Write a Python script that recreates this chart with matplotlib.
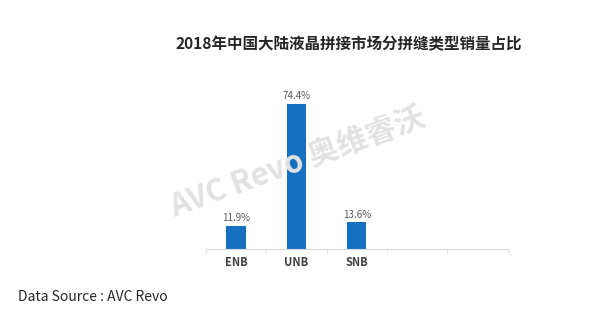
import numpy as np
import matplotlib.pyplot as plt

plt.rcParams['font.family'] = ['Noto Sans CJK SC', 'DejaVu Sans']

categories = ['ENB', 'UNB', 'SNB', '', '']
values = [11.9, 74.4, 13.6, None, None]
labels = ['11.9%', '74.4%', '13.6%']
title = '2018年中国大陆液晶拼接市场分拼缝类型销量占比'

fig = plt.figure(figsize=(6.07, 3.32), dpi=100)
ax = fig.add_axes([0.339, 0.25, 0.4975, 0.47])

x = np.arange(len(categories))
shown = [v for v in values if v is not None]
bars = ax.bar(x[:len(shown)], shown, width=0.32, color='#1470c0')

for b, lab in zip(bars, labels):
    ax.text(b.get_x() + b.get_width() / 2, b.get_height() + 1.5, lab,
            ha='center', va='bottom', fontsize=7, color='#595959')

ax.set_xlim(-0.5, len(categories) - 0.5)
ax.set_ylim(0, 80)
ax.set_xticks(x)
ax.set_xticklabels(categories, fontsize=8, color='#404040', fontweight='bold')
ax.tick_params(axis='x', length=0, pad=5)
ax.set_xticks(np.arange(-0.5, len(categories)), minor=True)
ax.tick_params(axis='x', which='minor', length=3, color='#d9d9d9')
ax.set_yticks([])
for s in ['top', 'right', 'left']:
    ax.spines[s].set_visible(False)
ax.spines['bottom'].set_color('#d9d9d9')

# watermark
fig.text(0.49, 0.51, 'AVC Revo 奥维睿沃', rotation=20, ha='center', va='center',
         fontsize=22, fontweight='bold', color='#e2e2e2', zorder=0)

fig.text(0.574, 0.867, title, ha='center', va='center', fontsize=11.2,
         fontweight='bold', color='#262626')
fig.text(0.03, 0.105, 'Data Source : AVC Revo', ha='left', va='center',
         fontsize=10, color='#262626')

fig.savefig('out.png', dpi=100)
